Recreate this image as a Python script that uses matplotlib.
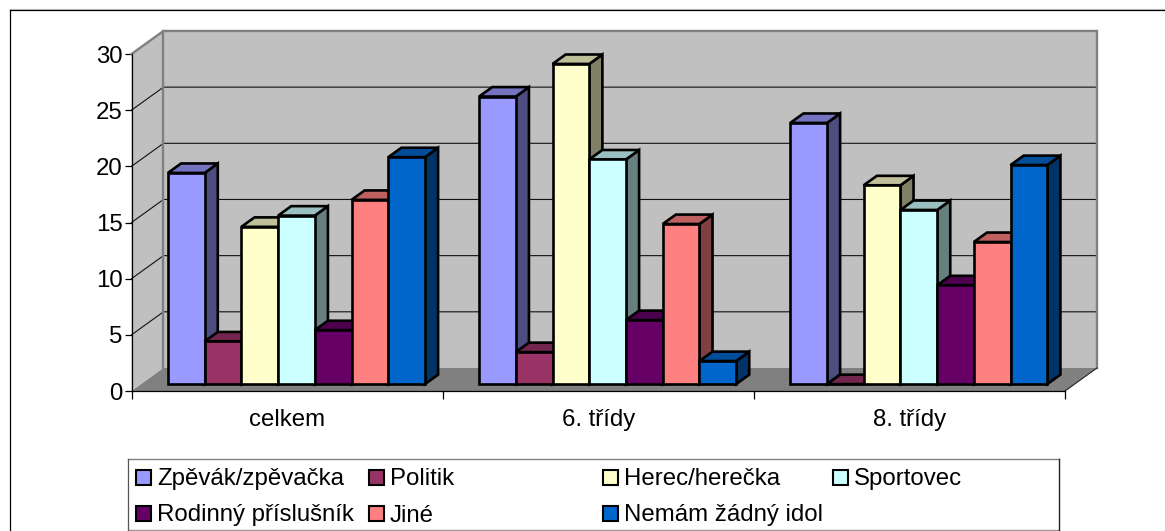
import matplotlib
matplotlib.use('Agg')
import matplotlib.pyplot as plt
from matplotlib.colors import to_rgb
from matplotlib.lines import Line2D
from matplotlib.patches import Polygon, Rectangle

plt.rcParams['font.family'] = ['Liberation Sans', 'DejaVu Sans']

categories = ['celkem', '6. třídy', '8. třídy']
series_names = ['Zpěvák/zpěvačka', 'Politik', 'Herec/herečka', 'Sportovec',
                'Rodinný příslušník', 'Jiné', 'Nemám žádný idol']
series_colors = ['#9999FF', '#993366', '#FFFFCC', '#CCFFFF', '#660066', '#FF8080', '#0066CC']

zpevak = [18.8, 25.6, 23.25]
politik = [3.8, 2.85, 0.0]
herec = [14.0, 28.5, 17.7]
sportovec = [15.0, 20.0, 15.5]
rodina = [4.8, 5.7, 8.8]
jine = [16.4, 14.25, 12.65]
zadny = [20.2, 2.05, 19.5]
values = [zpevak, politik, herec, sportovec, rodina, jine, zadny]

W, H = 1165, 531
YMAX = 30
FONT = 17.3
# 3D look: how far the back wall is shifted, in data units
DEPTH_X = 0.1028
DEPTH_Y = 2.05
BAR_FRONT = 0.30
BAR_DEPTH = 0.41
GROUP_GAP = 0.0863
BAR_W = 0.118


def shade(color, k):
    r, g, b = to_rgb(color)
    return (r * k, g * k, b * k)


def draw_bar(ax, x, w, v, color):
    dx0, dy0 = BAR_FRONT * DEPTH_X, BAR_FRONT * DEPTH_Y
    dx, dy = BAR_DEPTH * DEPTH_X, BAR_DEPTH * DEPTH_Y
    x0 = x + dx0
    x1 = x0 + w
    y0 = dy0
    y1 = dy0 + v
    style = dict(edgecolor='black', linewidth=1.9, joinstyle='miter', clip_on=False, zorder=3)
    ax.add_patch(Polygon([(x1, y0), (x1 + dx, y0 + dy), (x1 + dx, y1 + dy), (x1, y1)],
                         facecolor=shade(color, 0.5), **style))
    ax.add_patch(Polygon([(x0, y1), (x0 + dx, y1 + dy), (x1 + dx, y1 + dy), (x1, y1)],
                         facecolor=shade(color, 0.75), **style))
    ax.add_patch(Polygon([(x0, y0), (x1, y0), (x1, y1), (x0, y1)],
                         facecolor=color, **style))


fig = plt.figure(figsize=(W / 100, H / 100), dpi=100)
ax = fig.add_axes([131.5 / W, 1 - 391 / H, (1065 - 131.5) / W, (391 - 54) / H])
ax.set_xlim(0, 3)
ax.set_ylim(0, YMAX)
ax.patch.set_visible(False)

# walls and floor
ax.add_patch(Polygon([(DEPTH_X, DEPTH_Y), (3 + DEPTH_X, DEPTH_Y), (3 + DEPTH_X, YMAX + DEPTH_Y), (DEPTH_X, YMAX + DEPTH_Y)],
                     facecolor='#C0C0C0', edgecolor='none', clip_on=False, zorder=0))
ax.add_patch(Polygon([(0, 0), (DEPTH_X, DEPTH_Y), (DEPTH_X, YMAX + DEPTH_Y), (0, YMAX)],
                     facecolor='#C0C0C0', edgecolor='none', clip_on=False, zorder=0))
ax.add_patch(Polygon([(0, 0), (3, 0), (3 + DEPTH_X, DEPTH_Y), (DEPTH_X, DEPTH_Y)],
                     facecolor='#808080', edgecolor='none', clip_on=False, zorder=0))

# grid lines go round the left wall
for t in range(5, YMAX, 5):
    ax.plot([0, DEPTH_X, 3 + DEPTH_X], [t, t + DEPTH_Y, t + DEPTH_Y], color='#111111', lw=0.8, clip_on=False, zorder=1)

wall_line = dict(color='#808080', lw=1.7, clip_on=False, zorder=2, solid_joinstyle='miter')
ax.plot([DEPTH_X, DEPTH_X], [DEPTH_Y, YMAX + DEPTH_Y], **wall_line)
ax.plot([0, DEPTH_X, 3 + DEPTH_X, 3 + DEPTH_X], [YMAX, YMAX + DEPTH_Y, YMAX + DEPTH_Y, DEPTH_Y], **wall_line)
ax.plot([3, 3 + DEPTH_X], [0, DEPTH_Y], color='#222222', lw=0.8, clip_on=False, zorder=2)

for g in range(len(categories)):
    for s in range(len(series_names)):
        draw_bar(ax, g + GROUP_GAP + s * BAR_W, BAR_W, values[s][g], series_colors[s])

# axes, ticks
for side in ['top', 'right']:
    ax.spines[side].set_visible(False)
for side in ['left', 'bottom']:
    ax.spines[side].set_linewidth(0.9)
    ax.spines[side].set_zorder(2)
ax.set_yticks(range(0, YMAX + 1, 5))
ax.set_xticks([0, 1, 2, 3])
ax.set_xticklabels([])
ax.set_xticks([0.5, 1.5, 2.5], minor=True)
ax.set_xticklabels(categories, minor=True)
ax.tick_params(axis='y', labelsize=FONT, length=5, width=0.9, pad=1.5)
ax.tick_params(axis='x', which='major', length=6, width=0.9)
ax.tick_params(axis='x', which='minor', labelsize=FONT, length=0, pad=13)

# outer frame runs off the right and bottom edge of the picture
fig.add_artist(Line2D([10 / W, 1], [1 - 9.0 / H, 1 - 9.0 / H], color='#CCCCCC', lw=0.9))
fig.add_artist(Line2D([10 / W, 1], [1 - 10.3 / H, 1 - 10.3 / H], color='black', lw=0.9))
fig.add_artist(Line2D([10 / W, 10 / W], [0, 1 - 10 / H], color='black', lw=0.9))

# legend box, laid out on a helper axes in picture pixels
leg = fig.add_axes([0, 0, 1, 1])
leg.set_xlim(0, W)
leg.set_ylim(H, 0)
leg.axis('off')
leg.add_patch(Rectangle((128, 459), 931, 71, facecolor='white', edgecolor='none'))
leg.plot([128, 1059], [459, 459], color='#808080', lw=1.0)
leg.plot([128, 1059], [530, 530], color='#999999', lw=1.0)
leg.plot([128, 128], [459, 530], color='#555555', lw=0.9)
leg.plot([1059, 1059], [459, 530], color='#222222', lw=1.0)

col_x = [136, 369, 603, 833]
row_y = [477.5, 513]
base_y = [485, 521.5]
for i in range(len(series_names)):
    r = i // 4
    c = i % 4
    x = col_x[c]
    leg.add_patch(Rectangle((x, row_y[r] - 7.5), 15, 15, facecolor=series_colors[i], edgecolor='black', linewidth=1.5))
    leg.text(x + 21, base_y[r], series_names[i], fontsize=FONT, ha='left', va='baseline')

fig.savefig('out.png', dpi=100)
